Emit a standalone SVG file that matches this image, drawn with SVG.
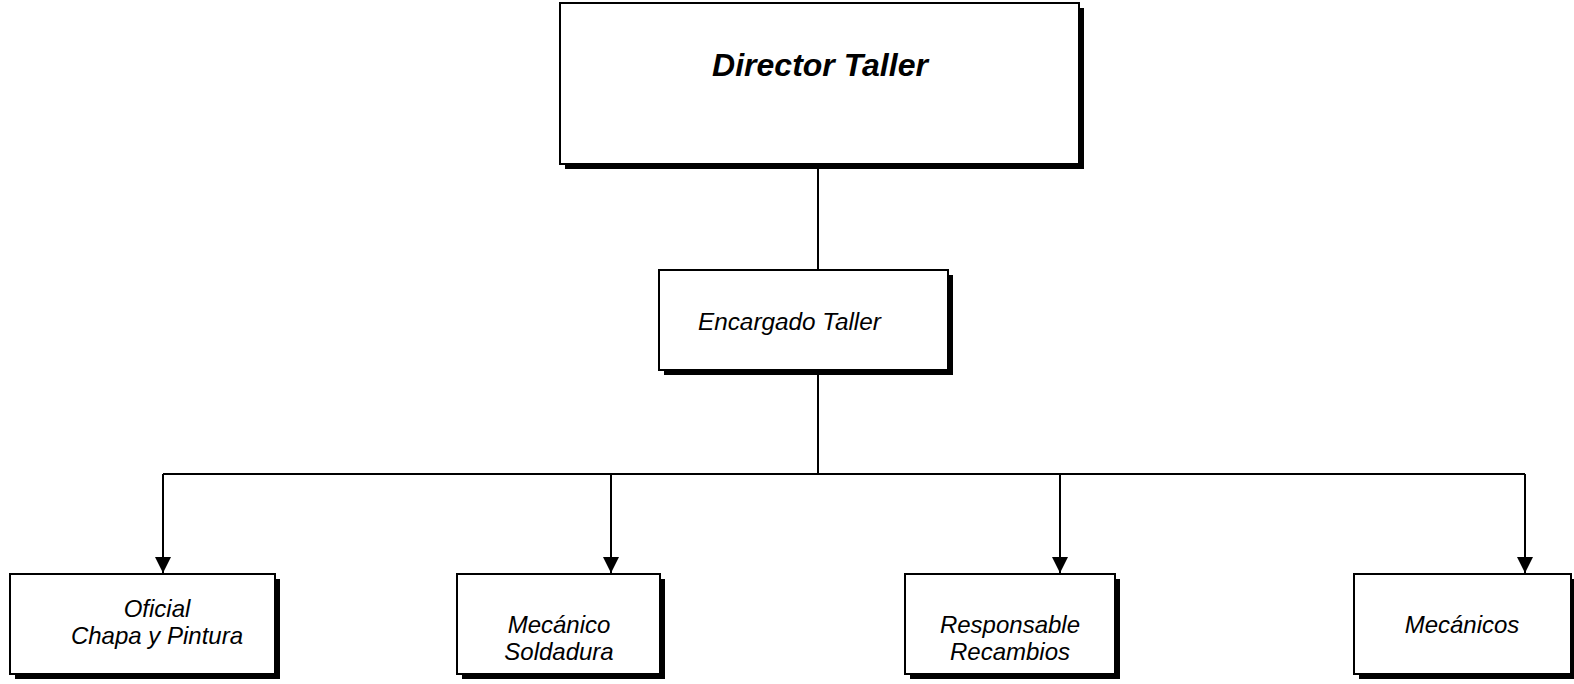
<svg xmlns="http://www.w3.org/2000/svg" width="1574" height="684" viewBox="0 0 1574 684">
<style>
.box{fill:#fff;stroke:#000;stroke-width:2}
.sh{fill:#000}
.t{font-family:"Liberation Sans",Arial,sans-serif;font-style:italic;font-size:24px;fill:#000}
.c{text-anchor:middle}
.ln{stroke:#000;stroke-width:2;fill:none}
</style>
<defs>
<marker id="ah" markerWidth="16" markerHeight="16" viewBox="0 0 16 16" refX="16" refY="8" orient="auto" markerUnits="userSpaceOnUse">
<path d="M0,0 L16,8 L0,16 Z" fill="#000"/>
</marker>
</defs>
<rect width="1574" height="684" fill="#fff"/>
<g id="connectors">
<line class="ln" x1="818" y1="164" x2="818" y2="269"/>
<line class="ln" x1="818" y1="369" x2="818" y2="474"/>
<line class="ln" x1="163" y1="474" x2="1525" y2="474"/>
<line class="ln" x1="163" y1="474" x2="163" y2="573" marker-end="url(#ah)"/>
<line class="ln" x1="611" y1="474" x2="611" y2="573" marker-end="url(#ah)"/>
<line class="ln" x1="1060" y1="474" x2="1060" y2="573" marker-end="url(#ah)"/>
<line class="ln" x1="1525" y1="474" x2="1525" y2="573" marker-end="url(#ah)"/>
</g>
<g id="director">
<rect class="sh" x="565" y="8" width="519" height="161"/>
<rect class="box" x="560" y="3" width="519" height="161"/>
<text class="t c" x="820" y="76" style="font-weight:bold;font-size:32px">Director Taller</text>
</g>
<g id="encargado">
<rect class="sh" x="664" y="275" width="289" height="100"/>
<rect class="box" x="659" y="270" width="289" height="100"/>
<text class="t" x="698" y="330" style="font-size:24.3px">Encargado Taller</text>
</g>
<g id="oficial">
<rect class="sh" x="15" y="579" width="265" height="100"/>
<rect class="box" x="10" y="574" width="265" height="100"/>
<text class="t c" x="157" y="617">Oficial</text>
<text class="t c" x="157" y="644">Chapa y Pintura</text>
</g>
<g id="soldadura">
<rect class="sh" x="462" y="579" width="203" height="100"/>
<rect class="box" x="457" y="574" width="203" height="100"/>
<text class="t c" x="559" y="633">Mecánico</text>
<text class="t c" x="559" y="660">Soldadura</text>
</g>
<g id="recambios">
<rect class="sh" x="910" y="579" width="210" height="100"/>
<rect class="box" x="905" y="574" width="210" height="100"/>
<text class="t c" x="1010" y="633">Responsable</text>
<text class="t c" x="1010" y="660">Recambios</text>
</g>
<g id="mecanicos">
<rect class="sh" x="1359" y="579" width="217" height="100"/>
<rect class="box" x="1354" y="574" width="217" height="100"/>
<text class="t c" x="1462" y="633">Mecánicos</text>
</g>
</svg>
